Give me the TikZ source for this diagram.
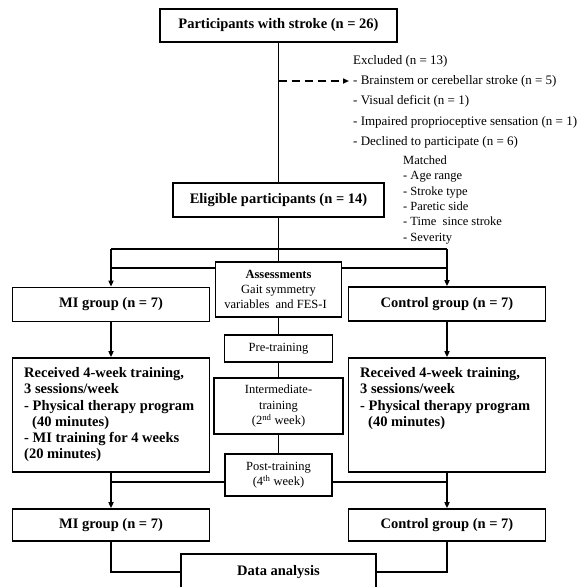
\documentclass[tikz,border=0pt]{standalone}
\usepackage{fontspec}
\setmainfont{Liberation Serif}
\usetikzlibrary{arrows.meta}
\begin{document}
\begin{tikzpicture}[x=1pt,y=-1pt,
  box/.style={draw, line width=1.7pt, inner sep=0pt, font=\fontsize{14.5}{16}\selectfont\bfseries},
  cbox/.style={draw, line width=1.6pt, inner sep=0pt, align=center, font=\fontsize{12.5}{15.4}\selectfont},
  conn/.style={line width=1.7pt},
  arr/.style={line width=1.7pt, -{Triangle[length=6pt,width=5pt]}},
  note/.style={inner sep=0pt, align=left, anchor=north west, font=\fontsize{12.5}{15.4}\selectfont},
  btext/.style={inner sep=0pt, align=left, anchor=north west, font=\fontsize{14.5}{16.2}\selectfont\bfseries},
]
\useasboundingbox (0,0) rectangle (578,587);

% top boxes
\node[box, minimum width=237pt, minimum height=33pt] (part) at (278.5,25.5) {Participants with stroke (n = 26)};
\node[box, minimum width=211pt, minimum height=34pt] (elig) at (278.5,200) {Eligible participants (n = 14)};
\draw[conn] (part) -- (elig);

% excluded
\coordinate (d0) at (278.5,81);
\coordinate (d1) at (349,81);
\draw[arr, dash pattern=on 8pt off 5pt] (d0) -- (d1);
\node[note, font=\fontsize{13}{20.3}\selectfont] (excl) at (353,55) {Excluded (n = 13)\\- Brainstem or cerebellar stroke (n = 5)\\- Visual deficit (n = 1)\\- Impaired proprioceptive sensation (n = 1)\\- Declined to participate (n = 6)};

% matched
\node[note] (match) at (403,155.5) {Matched\\- Age range\\- Stroke type\\- Paretic side\\- Time\ \ since stroke\\- Severity};

% center column
\node[cbox, minimum width=126pt, minimum height=55pt] (assess) at (278.5,289.5) {\textbf{Assessments}\\Gait symmetry\hspace*{26pt}\\variables\ \ and FES-I\hspace*{6pt}};
\node[cbox, minimum width=108pt, minimum height=27pt] (pre) at (278.5,348.5) {Pre-training};
\node[cbox, minimum width=129pt, minimum height=56pt] (inter) at (278.5,406) {Intermediate-\\training\\(2\textsuperscript{nd} week)};
\node[cbox, minimum width=107pt, minimum height=42pt] (post) at (278.5,475) {Post-training\\(4\textsuperscript{th} week)};
\draw[conn] (elig) -- (assess);
\draw[conn] (assess) -- (pre);
\draw[conn] (pre) -- (inter);
\draw[conn] (inter) -- (post);

% group boxes
\node[box, minimum width=197pt, minimum height=34pt] (mi1) at (111,304.5) {MI group (n = 7)};
\node[box, minimum width=197pt, minimum height=34pt] (ctl1) at (447,304) {Control group (n = 7)};
\node[box, minimum width=197pt, minimum height=114pt] (rec1) at (111,415) {};
\node[box, minimum width=197pt, minimum height=114pt] (rec2) at (447,415) {};
\node[btext] (rect1) at (24,367.5) {Received 4-week training,\\3 sessions/week\\- Physical therapy program\\\hspace*{8pt}(40 minutes)\\- MI training for 4 weeks\\(20 minutes)};
\node[btext] (rect2) at (360,367.5) {Received 4-week training,\\3 sessions/week\\- Physical therapy program\\\hspace*{8pt}(40 minutes)};
\node[box, minimum width=197pt, minimum height=32pt] (mi2) at (111,525) {MI group (n = 7)};
\node[box, minimum width=197pt, minimum height=32pt] (ctl2) at (447,525) {Control group (n = 7)};
\node[box, minimum width=195pt, minimum height=36pt] (data) at (278.5,572) {Data analysis};

% branching lines
\coordinate (hL) at (111,249);
\coordinate (hR) at (447,249);
\coordinate (yA) at (0,268);
\coordinate (yB) at (0,482);
\draw[conn] (hL) -- (hR);
\draw[arr] (hL) -- (mi1);
\draw[arr] (hR) -- (ctl1);
\draw[conn] (assess.west |- yA) -- (hL |- yA);
\draw[conn] (assess.east |- yA) -- (hR |- yA);
\draw[arr] (mi1) -- (rec1);
\draw[arr] (ctl1) -- (rec2);
\draw[conn] (post.west |- yB) -- (rec1.center |- yB);
\draw[conn] (post.east |- yB) -- (rec2.center |- yB);
\draw[arr] (rec1) -- (mi2);
\draw[arr] (rec2) -- (ctl2);
\draw[conn] (mi2) |- (data);
\draw[conn] (ctl2) |- (data);
\end{tikzpicture}
\end{document}
